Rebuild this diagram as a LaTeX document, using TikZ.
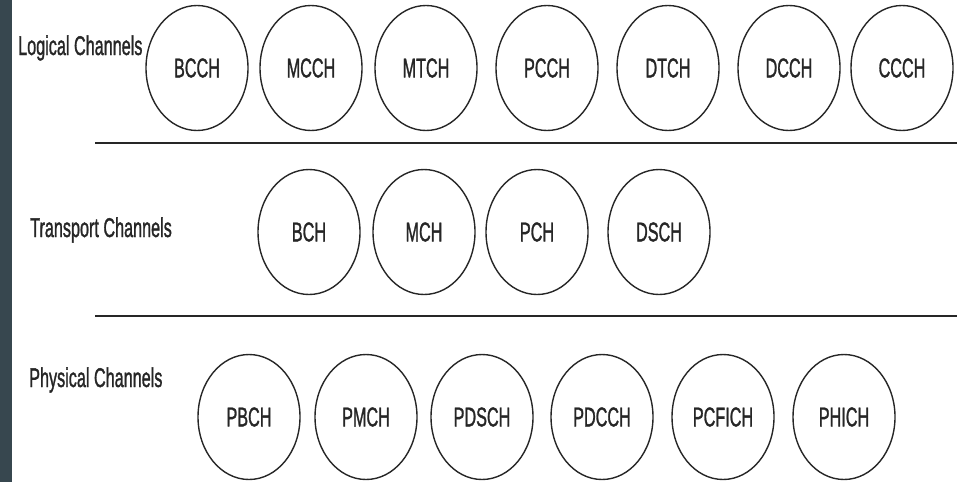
\documentclass[tikz,border=0pt]{standalone}
\usepackage{graphicx}
\usepackage{fontspec}
\setmainfont{Liberation Sans}
\newfontfamily\chanfont[FakeBold=1.6]{Liberation Sans}
\usepackage{tikz}
\usetikzlibrary{shapes.geometric}
\definecolor{SideColour}{RGB}{55,71,79}
\definecolor{inkgrey}{RGB}{38,38,38}
\newcommand{\narrowtxt}[1]{\scalebox{0.6}[1]{#1}}

\begin{document}
\begin{tikzpicture}[x=1pt, y=-1pt, font=\chanfont\fontsize{27}{30}\selectfont,
  chan/.style={ellipse, draw=inkgrey, line width=1.4pt, minimum width=102pt,
               minimum height=125pt, inner sep=0pt, text=inkgrey},
  rowlabel/.style={anchor=base west, inner sep=0pt, text=inkgrey},
  sepline/.style={inkgrey, line width=2.2pt}]
  \useasboundingbox (0,0) rectangle (957,482);
  \fill[SideColour] (0,0) rectangle (12,482);
  % row labels
  \node[rowlabel] (logical)   at (18,55)  {\narrowtxt{Logical Channels}};
  \node[rowlabel] (transport) at (30,237) {\narrowtxt{Transport Channels}};
  \node[rowlabel] (physical)  at (29,387) {\narrowtxt{Physical Channels}};
  % name, x-centre
  \foreach \n/\x in {BCCH/197, MCCH/311, MTCH/426, PCCH/547, DTCH/668, DCCH/789, CCCH/902} {
    \node[chan] (\n) at (\x,68) {\narrowtxt{\n}};
  }
  \foreach \n/\x in {BCH/309, MCH/424, PCH/537, DSCH/659} {
    \node[chan] (\n) at (\x,232) {\narrowtxt{\n}};
  }
  \foreach \n/\x in {PBCH/249, PMCH/366, PDSCH/482, PDCCH/602, PCFICH/723, PHICH/844} {
    \node[chan] (\n) at (\x,417) {\narrowtxt{\n}};
  }
  \draw[sepline] (95,143) -- (957,143);
  \draw[sepline] (95,316) -- (957,316);
\end{tikzpicture}
\end{document}
